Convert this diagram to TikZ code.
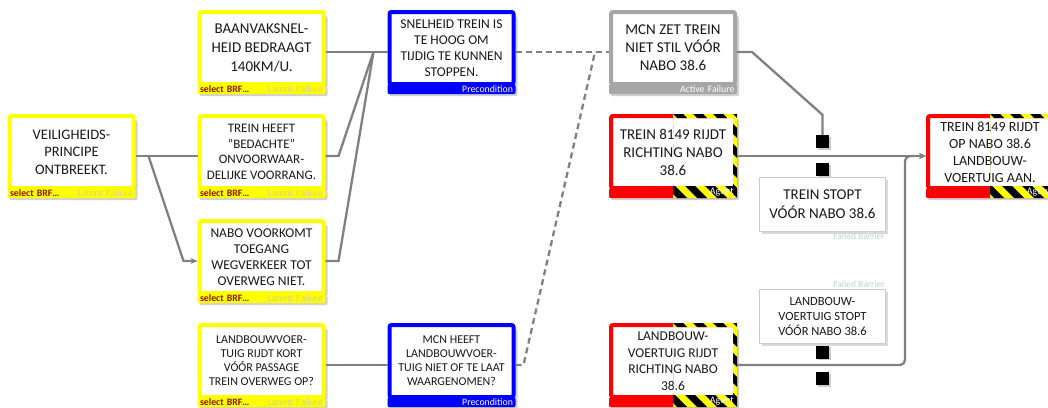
\documentclass[tikz,border=0pt]{standalone}
\usepackage{fontspec}
\setmainfont{Carlito}
\usepackage{xcolor}
\usetikzlibrary{shadows,arrows.meta}

\definecolor{lfyellow}{RGB}{255,255,0}
\definecolor{pcblue}{RGB}{0,0,255}
\definecolor{afgray}{RGB}{166,166,166}
\definecolor{agred}{RGB}{255,0,0}
\definecolor{brfred}{RGB}{140,20,0}
\definecolor{lftext}{RGB}{210,210,140}
\definecolor{fbtext}{RGB}{190,208,208}
\definecolor{wire}{RGB}{128,128,128}
\definecolor{boxtext}{RGB}{25,25,25}

% hazard stripes on the right half of an agent frame
\newcommand{\hazard}[1]{%
\begin{scope}[even odd rule]
\clip (#1.north) rectangle ([yshift=-8pt]#1.south east)
  ([yshift=-4pt]#1.north) rectangle ([shift={(-4pt,4pt)}]#1.south east);
\fill[lfyellow] (#1.north) rectangle ([yshift=-8pt]#1.south east);
\foreach \i in {-7,...,5}
  \fill[black, shift={(#1.north)}] (\i*20pt,0pt) -- ++(10pt,0pt) -- ++(110pt,-110pt) -- ++(-10pt,0pt) -- cycle;
\end{scope}}

\begin{document}
\begin{tikzpicture}[x=1pt, y=-1pt,
  fs/.style 2 args={font=\fontsize{#1}{#2}\selectfont},
  box/.style={rectangle, fill=white, line width=4pt, rounded corners=2pt,
    minimum width=124pt, minimum height=72pt, inner sep=2pt, align=center, text=boxtext,
    drop shadow={shadow xshift=4pt, shadow yshift=-4pt, fill=black!18, opacity=1}},
  strip/.style={fill=#1, text width=123pt, minimum height=10pt, inner xsep=2.5pt, inner ysep=0pt,
    yshift=2pt, rounded corners=2pt, font=\fontsize{9.8}{10}\selectfont,
    drop shadow={shadow xshift=2pt, shadow yshift=-2pt, fill=black!18, opacity=1}},
  latent/.style={box, draw=lfyellow,
    label={[strip=lfyellow]below:{\color{brfred}\bfseries select BRF\ldots}\hfill{\color{lftext}Latent Failure}}},
  precond/.style={box, draw=pcblue,
    label={[strip=pcblue]below:\hfill{\color{white}Precondition}}},
  active/.style={box, draw=afgray,
    label={[strip=afgray]below:\hfill{\color{white}Active Failure}}},
  agent/.style={box, draw=agred, label={[strip=agred]below:{}}},
  agtag/.style={anchor=east, inner sep=0pt, text=white, font=\fontsize{10}{10}\selectfont},
  barrier/.style={rectangle, fill=white, draw=black!20, line width=0.8pt, align=center, text=boxtext,
    minimum width=126pt, minimum height=54pt, inner sep=2pt,
    drop shadow={shadow xshift=2pt, shadow yshift=-2pt, fill=black!15, opacity=1}},
  fbtag/.style={inner sep=1pt, text=fbtext, font=\fontsize{9.5}{10}\selectfont},
  stop/.style={rectangle, fill=black, minimum size=13pt, inner sep=0pt,
    drop shadow={shadow xshift=1.5pt, shadow yshift=-1.5pt, fill=black!20, opacity=1}},
  wire/.style={draw=wire, line width=2.3pt},
  tip/.style={-{Stealth[length=7pt, width=6pt]}}]

\useasboundingbox (0,0) rectangle (1048,407);
\clip (0,0) rectangle (1048,407);

% latent failures
\node[latent, fs={14.5}{17.5}] (b1) at (71.5,152) {VEILIGHEIDS-\\PRINCIPE\\ONTBREEKT.};
\node[latent, fs={15}{19}] (b2) at (261.5,48) {BAANVAKSNEL-\\HEID BEDRAAGT\\140KM/U.};
\node[latent, fs={13}{15.6}] (b3) at (261.5,152) {TREIN HEEFT\\"BEDACHTE"\\ONVOORWAAR-\\DELIJKE VOORRANG.};
\node[latent, fs={13.5}{16}] (b4) at (261.5,257) {NABO VOORKOMT\\TOEGANG\\WEGVERKEER TOT\\OVERWEG NIET.};
\node[latent, fs={12}{14}] (b5) at (261.5,361) {LANDBOUWVOER-\\TUIG RIJDT KORT\\VÓÓR PASSAGE\\TREIN OVERWEG OP?};

% preconditions
\node[precond, fs={13.5}{16}] (b6) at (451.5,48) {SNELHEID TREIN IS\\TE HOOG OM\\TIJDIG TE KUNNEN\\STOPPEN.};
\node[precond, fs={12}{14}] (b7) at (451.5,361) {MCN HEEFT\\LANDBOUWVOER-\\TUIG NIET OF TE LAAT\\WAARGENOMEN?};

% active failure
\node[active, fs={15}{18}] (b8) at (673,48) {MCN ZET TREIN\\NIET STIL VÓÓR\\NABO 38.6};

% agents
\node[agent, fs={15}{18}] (a1) at (673,152) {TREIN 8149 RIJDT\\RICHTING NABO\\38.6};
\hazard{a1}
\node[agtag] (a1tag) at ([shift={(-3pt,-2pt)}]a1.south east) {Agent};
\node[agent, fs={13.5}{16.5}] (a2) at (673,361) {LANDBOUW-\\VOERTUIG RIJDT\\RICHTING NABO\\38.6};
\hazard{a2}
\node[agtag] (a2tag) at ([shift={(-3pt,-2pt)}]a2.south east) {Agent};
\node[agent, fs={14}{17}] (a3) at (990,152) {TREIN 8149 RIJDT\\OP NABO 38.6\\LANDBOUW-\\VOERTUIG AAN.};
\hazard{a3}
\node[agtag] (a3tag) at ([shift={(-3pt,-2pt)}]a3.south east) {Agent};

% barriers
\node[barrier, fs={15}{19}] (bar1) at (822.5,204.5) {TREIN STOPT\\VÓÓR NABO 38.6};
\node[fbtag, anchor=north east] (bar1tag) at (bar1.south east) {Failed Barrier};
\node[barrier, fs={12.5}{15}] (bar2) at (822.5,316.5) {LANDBOUW-\\VOERTUIG STOPT\\VÓÓR NABO 38.6};
\node[fbtag, anchor=south east] (bar2tag) at (bar2.north east) {Failed Barrier};

\node[stop] (s1) at (822.5,141.5) {};
\node[stop] (s2) at (822.5,169.5) {};
\node[stop] (s3) at (822.5,352) {};
\node[stop] (s4) at (822.5,378.5) {};

% connectors
\draw[wire] ([yshift=-4pt]b1.east) -- ([yshift=-4pt]b3.west);
\draw[wire, tip] ([shift={(13pt,-4pt)}]b1.east) -- ([shift={(-14pt,-4pt)}]b4.west) -- ([yshift=-4pt]b4.west);
\draw[wire] ([yshift=-4pt]b2.east) -- ([yshift=-4pt]b6.west);
\draw[wire] ([yshift=-4pt]b3.east) -- ++(13pt,0pt) -- ([shift={(-14pt,-4pt)}]b6.west);
\draw[wire] ([yshift=-4pt]b4.east) -- ++(13pt,0pt) -- ([shift={(-14pt,-4pt)}]b6.west);
\draw[wire] ([yshift=-4pt]b5.east) -- ([yshift=-4pt]b7.west);
\draw[wire, dash pattern=on 6pt off 4pt] ([yshift=-4pt]b6.east) -- ([yshift=-4pt]b8.west);
\draw[wire, dash pattern=on 6pt off 4pt] ([yshift=-4pt]b7.east) -- ++(8pt,0pt) -- ([shift={(-14pt,-4pt)}]b8.west);
\draw[wire] ([yshift=-4pt]b8.east) -- ++(15pt,0pt) -- ([yshift=20pt]s1.north) -- (s1);
\draw[wire, tip] ([yshift=-4pt]a1.east) -- ([yshift=-4pt]a3.west);
\draw[wire, rounded corners=5pt, tip] ([yshift=-4pt]a2.east) -| ([shift={(-21pt,-4pt)}]a3.west) -- ([yshift=-4pt]a3.west);
\end{tikzpicture}
\end{document}
